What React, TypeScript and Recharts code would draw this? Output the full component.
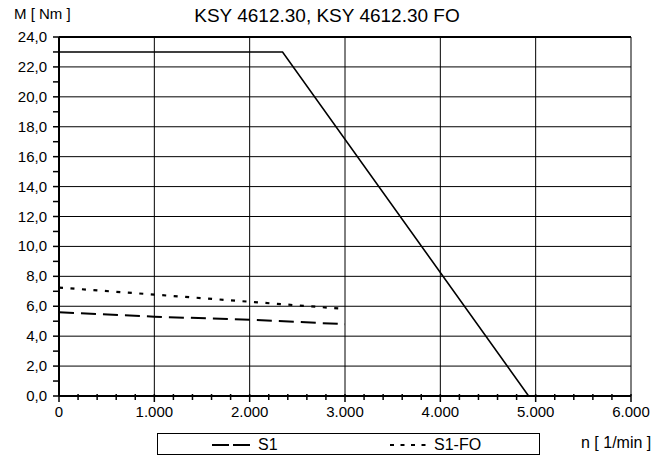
import { LineChart, Line, XAxis, YAxis, CartesianGrid, ReferenceLine, Legend } from 'recharts';

const FONT = '"Liberation Sans", Arial, sans-serif';

// characteristic curve (speed in 1/min, torque in Nm)
const limitSpeed = [0, 2345, 4926];
const limitTorque = [23, 23, 0];

const s1Speed = [0, 1000, 2000, 3000];
const s1Torque = [5.6, 5.3, 5.1, 4.8];

const s1foSpeed = [0, 1000, 2000, 3000];
const s1foTorque = [7.25, 6.78, 6.3, 5.82];

const xMajor = [0, 1000, 2000, 3000, 4000, 5000, 6000];
const xTicks = Array.from({ length: 31 }, (_, i) => i * 200);
const yMajor = [0, 2, 4, 6, 8, 10, 12, 14, 16, 18, 20, 22, 24];
const yTicks = Array.from({ length: 25 }, (_, i) => i);

const zip = (n: number[], m: number[]) => n.map((v, i) => ({ n: v, m: m[i] }));
const limitData = zip(limitSpeed, limitTorque);
const s1Data = zip(s1Speed, s1Torque);
const s1foData = zip(s1foSpeed, s1foTorque);

const fmtX = (v: number) => (v === 0 ? '0' : `${Math.floor(v / 1000)}.${String(v % 1000).padStart(3, '0')}`);
const fmtY = (v: number) => v.toFixed(1).replace('.', ',');

function XTick({ x, y, payload }: any) {
  const major = payload.value % 1000 === 0;
  return (
    <g>
      <line x1={x} x2={x} y1={y - 2} y2={y + (major ? 6 : 4)} stroke="#000" strokeWidth={1.5} />
      {major && (
        <text x={x} y={y + 21} textAnchor="middle" fontSize={15} fontFamily={FONT} fill="#000">
          {fmtX(payload.value)}
        </text>
      )}
    </g>
  );
}

function YTick({ x, y, payload }: any) {
  const major = payload.value % 2 === 0;
  return (
    <g>
      <line x1={x - 6} x2={x} y1={y} y2={y} stroke="#000" strokeWidth={1.5} />
      {major && (
        <text x={x - 12} y={y + 5} textAnchor="end" fontSize={15} fontFamily={FONT} fill="#000">
          {fmtY(payload.value)}
        </text>
      )}
    </g>
  );
}

function LegendBox() {
  return (
    <svg width={383} height={22} style={{ display: 'block' }}>
      <rect x={0.5} y={0.5} width={382} height={21} fill="#fff" stroke="#000" />
      <line x1={55} x2={93} y1={12} y2={12} stroke="#000" strokeWidth={2} strokeDasharray="17 4" />
      <text x={101} y={17} fontSize={16} fontFamily={FONT}>S1</text>
      <line x1={233} x2={274} y1={12} y2={12} stroke="#000" strokeWidth={2} strokeDasharray="4 6.5" />
      <text x={277} y={17} fontSize={16} fontFamily={FONT}>S1-FO</text>
    </svg>
  );
}

export default function App() {
  return (
    <div style={{ position: 'absolute', left: 0, top: 0, width: 666, height: 457, background: '#fff', fontFamily: FONT }}>
      <LineChart width={666} height={457} margin={{ top: 37, right: 35, left: 0, bottom: 9 }}>
        <CartesianGrid
          stroke="#000"
          strokeWidth={1}
          horizontalValues={yMajor}
          verticalValues={xMajor}
        />
        <XAxis
          type="number"
          dataKey="n"
          domain={[0, 6000]}
          ticks={xTicks}
          interval={0}
          height={30}
          tickSize={0}
          tickMargin={0}
          tickLine={false}
          tick={<XTick />}
          axisLine={{ stroke: '#000', strokeWidth: 2 }}
          allowDataOverflow
        />
        <YAxis
          type="number"
          dataKey="m"
          domain={[0, 24]}
          ticks={yTicks}
          interval={0}
          width={59}
          tickSize={0}
          tickMargin={0}
          tickLine={false}
          tick={<YTick />}
          axisLine={{ stroke: '#000', strokeWidth: 2 }}
          allowDataOverflow
        />
        <ReferenceLine y={24} stroke="#000" strokeWidth={2} />
        <Legend
          content={() => <LegendBox />}
          wrapperStyle={{ position: 'absolute', left: 157, top: 433, width: 383, height: 22, bottom: 'auto' }}
        />
        <Line data={limitData} dataKey="m" stroke="#000" strokeWidth={1.6} dot={false} isAnimationActive={false} legendType="none" />
        <Line data={s1Data} dataKey="m" name="S1" stroke="#000" strokeWidth={2} strokeDasharray="15 7" dot={false} isAnimationActive={false} />
        <Line data={s1foData} dataKey="m" name="S1-FO" stroke="#000" strokeWidth={2.2} strokeDasharray="4 7.5" dot={false} isAnimationActive={false} />
      </LineChart>
      <div style={{ position: 'absolute', left: 14, top: 5, fontSize: 15, whiteSpace: 'nowrap' }}>M [ Nm ]</div>
      <div style={{ position: 'absolute', left: 0, width: 654, top: 5, fontSize: 19, textAlign: 'center', whiteSpace: 'nowrap' }}>
        KSY 4612.30, KSY 4612.30 FO
      </div>
      <div style={{ position: 'absolute', left: 581, top: 434, fontSize: 16, whiteSpace: 'nowrap' }}>n [ 1/min ]</div>
    </div>
  );
}
